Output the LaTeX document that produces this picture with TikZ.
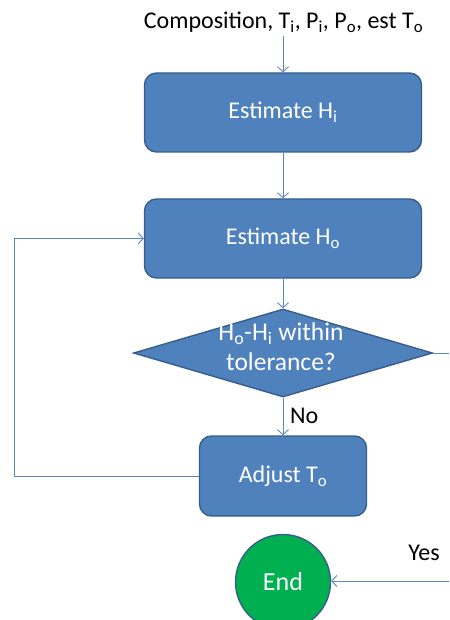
\documentclass[tikz,border=0pt]{standalone}
\usepackage{fontspec}
\setmainfont{Carlito}
\usetikzlibrary{arrows.meta,shapes.geometric}
\definecolor{boxfill}{HTML}{4F81BD}
\definecolor{boxline}{HTML}{385D8A}
\definecolor{conn}{HTML}{5B87C0}
\definecolor{endfill}{HTML}{00B050}
\tikzset{
  procbox/.style={draw=boxline, fill=boxfill, line width=1.4pt, rounded corners=12pt,
    text=white, font=\fontsize{24}{28}\selectfont, inner sep=0pt},
  decbox/.style={draw=boxline, fill=boxfill, line width=1.4pt, shape=diamond, inner sep=0pt,
    minimum width=299pt, minimum height=88pt},
  wtext/.style={text=white, font=\fontsize{25.5}{30}\selectfont, align=center, inner sep=0pt},
  btext/.style={text=black, font=\fontsize{24}{28}\selectfont, inner sep=0pt},
  endnode/.style={draw=boxline, fill=endfill, line width=1.4pt, shape=circle, minimum size=95pt,
    inner sep=0pt, text=white, font=\fontsize{26}{30}\selectfont},
  conn/.style={draw=conn, line width=0.9pt},
  arr/.style={conn, -{Straight Barb[length=5pt,width=11pt,line width=0.9pt]}}
}
\begin{document}
\begin{tikzpicture}[x=1pt,y=-1pt]
\useasboundingbox (0,0) rectangle (449,620);
\node[btext] (inp) at (283.5,22) {Composition, T\textsubscript{i}, P\textsubscript{i}, P\textsubscript{o}, est T\textsubscript{o}};
\node[procbox, minimum width=277pt, minimum height=79pt] (hi) at (283,112.5) {Estimate H\textsubscript{i}};
\node[procbox, minimum width=277pt, minimum height=79pt] (ho) at (283,238.5) {Estimate H\textsubscript{o}};
\node[decbox] (dec) at (283,353) {};
\node[wtext] (dectext) at (281,347) {H\textsubscript{o}-H\textsubscript{i} within\\tolerance?};
\node[procbox, minimum width=167pt, minimum height=80pt] (adj) at (283,476) {Adjust T\textsubscript{o}};
\node[endnode] (endc) at (283,582) {End};
\node[btext, anchor=west] (no) at (290,416) {No};
\node[btext] (yes) at (424,553) {Yes};
\coordinate (rt) at (449,353);
\coordinate (rb) at (449,581);
\coordinate (lb) at (14,476);

\draw[arr] (inp.south -| hi.north) ++(0,4) -- (hi.north);
\draw[arr] (hi.south) -- (ho.north);
\draw[arr] (ho.south) -- (dec.north);
\draw[arr] (dec.south) -- (adj.north);
\draw[arr] (adj.west) -- (lb) |- (ho.west);
\draw[conn] (dec.east) -- (rt);
\draw[arr] (rb) -- (endc.east |- rb);
\end{tikzpicture}
\end{document}
